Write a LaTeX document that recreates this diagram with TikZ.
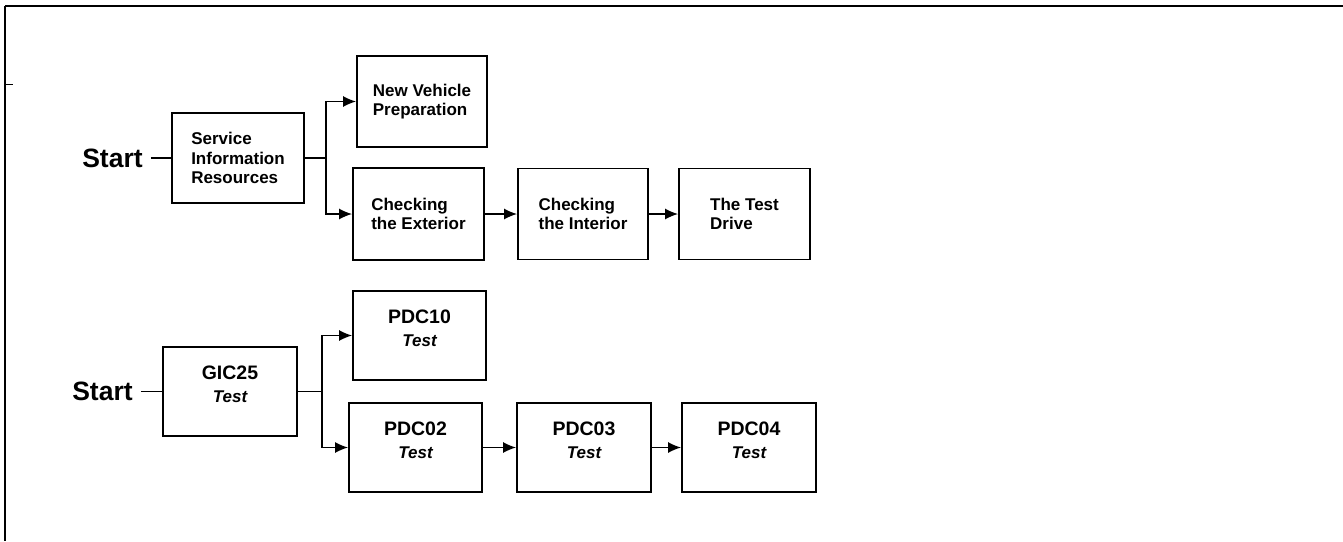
\documentclass[tikz,border=0pt]{standalone}
\usepackage{fontspec}
\setmainfont{Liberation Sans}
\usetikzlibrary{arrows.meta}
\begin{document}
\begin{tikzpicture}[x=1pt,y=-1pt,
  box/.style={draw, line width=1.9pt, fill=white, inner sep=0pt},
  lbl/.style={align=left, font=\fontsize{17}{19.5}\selectfont\bfseries},
  codetxt/.style={align=center, inner sep=0pt, font=\fontsize{19.5}{22.5}\selectfont\bfseries},
  startlbl/.style={font=\fontsize{26.5}{30}\selectfont\bfseries, inner sep=1pt},
  link/.style={line width=1.3pt},
  arr/.style={link, -{Latex[length=13pt,width=11pt]}}
]
\useasboundingbox (0,0) rectangle (1343,541);
% frame
\draw[line width=1.6pt] (5,6) -- (1343,6);
\draw[line width=1.1pt] (5,6) -- (5,541);
\draw[line width=0.8pt] (5,84) -- (13,84);

% ---------- top row ----------
\node[startlbl] (s1) at (112.5,158) {Start};
\node[box, lbl, minimum width=132pt, minimum height=90pt] (sir) at (238,158) {Service\\Information\\Resources};
\node[box, lbl, minimum width=130pt, minimum height=91pt] (nvp) at (422,101.5) {New Vehicle\\Preparation};
\node[box, lbl, minimum width=131pt, minimum height=92pt] (ce) at (418.5,214) {Checking\\the Exterior};
\node[box, lbl, minimum width=130pt, minimum height=91pt] (ci) at (583,214) {Checking\\the Interior};
\node[box, lbl, minimum width=131pt, minimum height=91pt] (td) at (744.5,214) {The Test\\Drive};

\draw[link, shorten <=7pt] (s1.east) -- (s1.east -| sir.west);
\draw[link] (sir.east) -- ++(21,0) coordinate (j1);
\draw[arr] (j1) |- (nvp.west);
\draw[arr] (j1) |- (ce.west);
\draw[arr] (ce.east) -- (ci.west);
\draw[arr] (ci.east) -- (td.west);

% ---------- bottom row ----------
\node[startlbl] (s2) at (102.5,391.5) {Start};
\node[box, minimum width=134pt, minimum height=89pt] (gic) at (230,391.5) {};
\node[box, minimum width=133pt, minimum height=89pt] (p10) at (419.5,335.5) {};
\node[box, minimum width=133pt, minimum height=89pt] (p02) at (415.5,447.5) {};
\node[box, minimum width=134pt, minimum height=89pt] (p03) at (584,447.5) {};
\node[box, minimum width=134pt, minimum height=89pt] (p04) at (749,447.5) {};

\node[codetxt] (tgic) at ([yshift=7pt]gic.center) {GIC25\\{\fontsize{17}{19.5}\selectfont\itshape Test}};
\node[codetxt] (t10) at ([yshift=7pt]p10.center) {PDC10\\{\fontsize{17}{19.5}\selectfont\itshape Test}};
\node[codetxt] (t02) at ([yshift=7pt]p02.center) {PDC02\\{\fontsize{17}{19.5}\selectfont\itshape Test}};
\node[codetxt] (t03) at ([yshift=7pt]p03.center) {PDC03\\{\fontsize{17}{19.5}\selectfont\itshape Test}};
\node[codetxt] (t04) at ([yshift=7pt]p04.center) {PDC04\\{\fontsize{17}{19.5}\selectfont\itshape Test}};

\draw[link, shorten <=7pt] (s2.east) -- (s2.east -| gic.west);
\draw[link] (gic.east) -- ++(24,0) coordinate (j2);
\draw[arr] (j2) |- (p10.west);
\draw[arr] (j2) |- (p02.west);
\draw[arr] (p02.east) -- (p03.west);
\draw[arr] (p03.east) -- (p04.west);
\end{tikzpicture}
\end{document}
